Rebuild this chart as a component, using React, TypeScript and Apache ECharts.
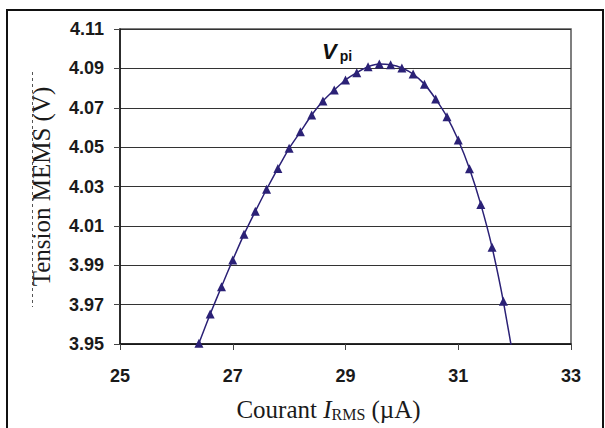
import React, { useEffect, useRef } from "react";
import * as echarts from "echarts";

// Courant I_RMS (µA) sampled every 0.2 µA
const currentUA = [
  26.4, 26.6, 26.8, 27.0, 27.2, 27.4, 27.6, 27.8, 28.0, 28.2,
  28.4, 28.6, 28.8, 29.0, 29.2, 29.4, 29.6, 29.8, 30.0, 30.2,
  30.4, 30.6, 30.8, 31.0, 31.2, 31.4, 31.6, 31.8, 32.0,
];

// Tension MEMS (V)
const tensionV = [
  3.9504, 3.9652, 3.9791, 3.9927, 4.0057, 4.0174, 4.0286, 4.0392, 4.0494, 4.0578,
  4.0663, 4.0734, 4.079, 4.0841, 4.0878, 4.0908, 4.0922, 4.0918, 4.0902, 4.0871,
  4.082, 4.0744, 4.0654, 4.0536, 4.039, 4.0209, 3.9991, 3.9717, 3.939,
];

const xTicks = { min: 25, max: 33, step: 2 };
const yTicks = { min: 3.95, max: 4.11, step: 0.02 };

const LINE_COLOR = "#2b2176";
const SERIF = "Liberation Serif, Times New Roman, serif";
const SANS = "Liberation Sans, Arial, sans-serif";

export default function App() {
  const ref = useRef<HTMLDivElement>(null);

  useEffect(() => {
    if (!ref.current) return;
    const chart = echarts.init(ref.current, undefined, { renderer: "svg" });
    const points = currentUA.map((x, i) => [x, tensionV[i]]);

    chart.setOption({
      animation: false,
      backgroundColor: "#ffffff",
      grid: {
        left: 120,
        top: 29,
        right: 34,
        bottom: 84,
        show: true,
        borderColor: "#555555",
        borderWidth: 1.5,
      },
      xAxis: {
        type: "value",
        min: xTicks.min,
        max: xTicks.max,
        interval: xTicks.step,
        axisLine: { show: true, lineStyle: { color: "#111111", width: 1.5 } },
        axisTick: { show: true, length: 6, lineStyle: { color: "#444444", width: 1 } },
        splitLine: { show: false },
        axisLabel: {
          margin: 23,
          fontFamily: SANS,
          fontWeight: "bold",
          fontSize: 18,
          color: "#1a1a1a",
        },
        name: "{a|Courant }{i|I}{s|RMS}{a| (µA)}",
        nameLocation: "middle",
        nameGap: 52,
        nameTextStyle: {
          padding: [0, 34, 0, 0],
          rich: {
            a: { fontFamily: SERIF, fontSize: 25, color: "#1a1a1a" },
            i: { fontFamily: SERIF, fontSize: 25, fontStyle: "italic", color: "#1a1a1a" },
            s: { fontFamily: SERIF, fontSize: 16, color: "#1a1a1a", padding: [10, 0, 0, 0] },
          },
        },
      },
      yAxis: {
        type: "value",
        min: yTicks.min,
        max: yTicks.max,
        interval: yTicks.step,
        axisLine: { show: true, lineStyle: { color: "#111111", width: 1.5 } },
        axisTick: { show: true, length: 6, lineStyle: { color: "#444444", width: 1 } },
        splitLine: { show: true, lineStyle: { color: "#333333", width: 1 } },
        axisLabel: {
          margin: 16,
          fontFamily: SANS,
          fontWeight: "bold",
          fontSize: 18,
          color: "#1a1a1a",
          formatter: (v: number) => v.toFixed(2),
        },
        name: "Tension MEMS (V)",
        nameLocation: "middle",
        nameGap: 66,
        nameRotate: 90,
        nameTextStyle: {
          fontFamily: SERIF,
          fontSize: 25,
          color: "#1a1a1a",
        },
      },
      series: [
        {
          type: "line",
          data: points,
          smooth: 0.2,
          clip: true,
          symbol: "triangle",
          symbolSize: 9,
          showAllSymbol: true,
          lineStyle: { color: LINE_COLOR, width: 1.5 },
          itemStyle: { color: LINE_COLOR },
        },
      ],
      graphic: [
        {
          type: "rect",
          shape: { x: 7, y: 10, width: 596, height: 430 },
          style: { fill: "none", stroke: "#111111", lineWidth: 2 },
          silent: true,
        },
        {
          type: "line",
          shape: { x1: 32.5, y1: 72, x2: 32.5, y2: 307 },
          style: { stroke: "#555555", lineWidth: 1, lineDash: [3, 3] },
          silent: true,
        },
        {
          type: "text",
          left: 322,
          top: 40,
          style: {
            text: "{v|V}{p|pi}",
            rich: {
              v: {
                fontFamily: SANS,
                fontSize: 22,
                fontWeight: "bold",
                fontStyle: "italic",
                fill: "#111111",
              },
              p: {
                fontFamily: SANS,
                fontSize: 14,
                fontWeight: "bold",
                fill: "#111111",
                padding: [9, 0, 0, 3],
              },
            },
          },
        },
      ],
    });

    return () => chart.dispose();
  }, []);

  return (
    <div
      ref={ref}
      style={{ position: "absolute", left: 0, top: 0, width: 605, height: 428 }}
    />
  );
}
